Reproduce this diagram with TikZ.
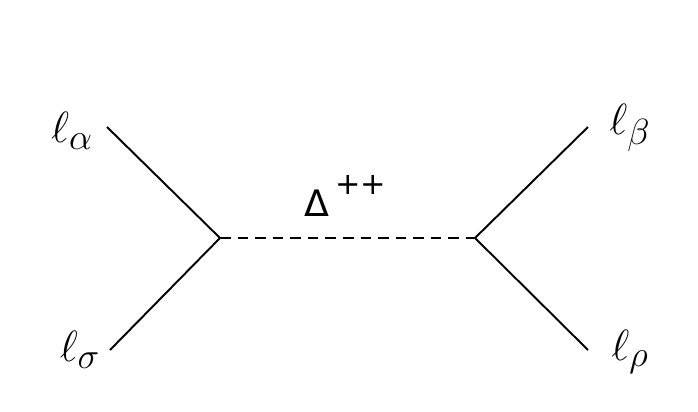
\documentclass[tikz,border=0pt]{standalone}
\usepackage{amsmath}
\usepackage{fontspec}
\newfontfamily\labelfont{DejaVu Sans}
\begin{document}
\begin{tikzpicture}
        [x=0.02cm,y=-0.02cm,
        fermion/.style = {line width=1.1pt},
        scalar/.style = {line width=1.1pt,dash pattern=on 6pt off 4pt},
        leg/.style = {font=\Huge}]
        \useasboundingbox (0,0) rectangle (698,412);

        % Vertices
        \coordinate (V1) at (220,238);
        \coordinate (V2) at (475,238);

        % External legs
        \coordinate (A) at (107,127);
        \coordinate (S) at (110,350);
        \coordinate (B) at (588,127);
        \coordinate (R) at (588,350);

        \draw[fermion] (A) -- (V1) -- (S);
        \draw[fermion] (B) -- (V2) -- (R);
        \draw[scalar] (V1) -- (V2);

        % Labels
        \node[leg] (la) at (72,131) {$\ell_\alpha$};
        \node[leg] (ls) at (80,350) {$\ell_\sigma$};
        \node[leg] (lb) at (630,128) {$\ell_\beta$};
        \node[leg] (lr) at (630,352) {$\ell_\rho$};
        \node[font=\labelfont\huge] (D) at (345,196) {Δ\,\raisebox{1.1ex}{\LARGE ++}};
\end{tikzpicture}
\end{document}
